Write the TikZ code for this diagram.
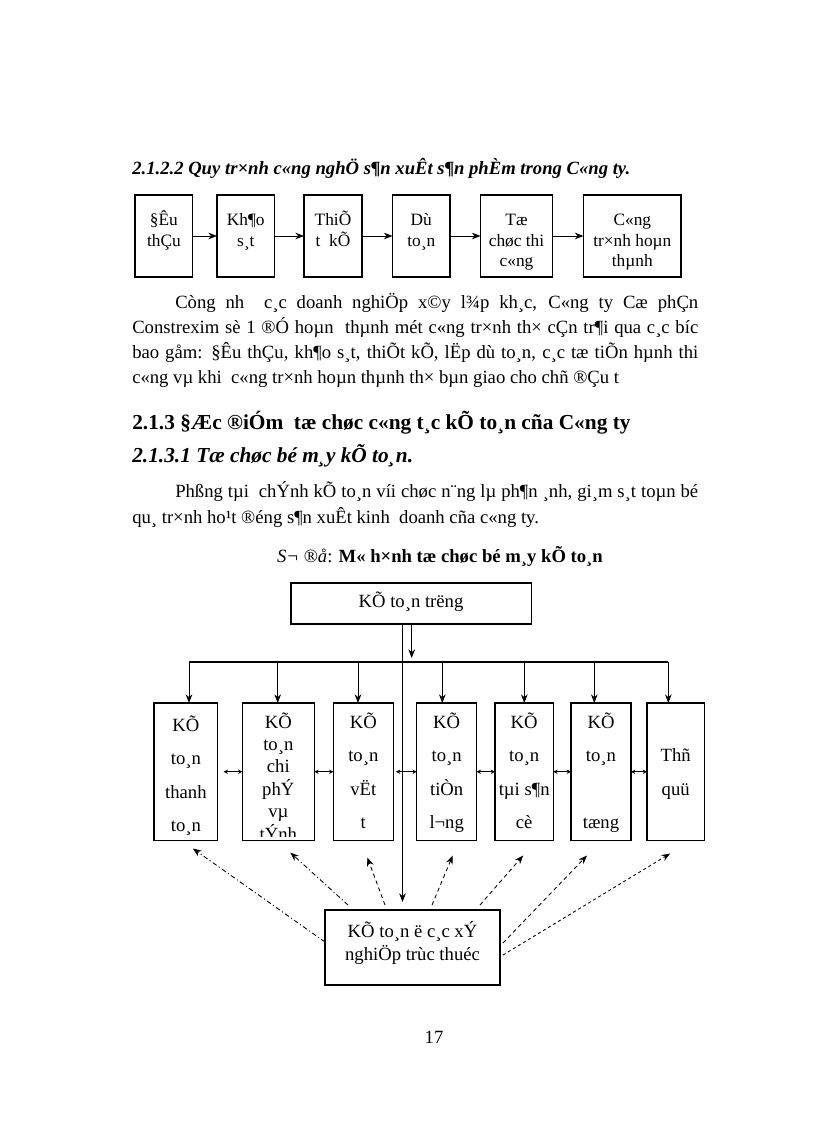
\documentclass[tikz,border=0pt]{standalone}
\usepackage{fontspec}
\setmainfont{Liberation Serif}
\usetikzlibrary{arrows.meta,fit}
\newcommand\boxlines[6]{\foreach \t [count=\i] in {#6} \node[#1] (#2\i) at (#3,{#4+(\i-1)*#5}) {\t};}
\begin{document}
\begin{tikzpicture}[x=0.75pt,y=-0.75pt,
  box/.style={draw,line width=0.8pt,inner sep=0pt,outer sep=0pt},
  arr/.style={-{Stealth[length=6.5pt,width=5pt]},line width=0.65pt},
  dbl/.style={{Stealth[length=3.2pt,width=3.2pt]}-{Stealth[length=3.2pt,width=3.2pt]},line width=0.55pt},
  txt/.style={anchor=base,inner sep=0pt,font=\fontsize{14}{16}\selectfont},
  small/.style={anchor=base,inner sep=0pt,font=\fontsize{13}{15}\selectfont},
  body/.style={anchor=base west,inner sep=0pt,font=\fontsize{14}{17}\selectfont},
  ddot/.style={arr,dash pattern=on 3.5pt off 2pt on 0.8pt off 2pt},
  dsh/.style={arr,dash pattern=on 3pt off 2.5pt},
  dshf/.style={arr,dash pattern=on 2.2pt off 2.2pt}
]
\fill[white] (0,0) rectangle (816,1123);
\useasboundingbox (0,0) rectangle (816,1123);

% ---- heading 2.1.2.2
\node[body,font=\fontsize{14}{17}\selectfont\bfseries\itshape] (h1) at (132,175)
  {2.1.2.2 Quy tr×nh c«ng nghÖ s¶n xuÊt s¶n phÈm trong C«ng ty.};

% ---- process flow
\node[box,fit={(135,195) (192.7,277)}] (f1) {};
\node[box,fit={(217,195) (274.5,277)}] (f2) {};
\node[box,fit={(304,195) (362,277)}] (f3) {};
\node[box,fit={(392.5,195) (450,277)}] (f4) {};
\node[box,fit={(480.5,195) (552.5,277)}] (f5) {};
\node[box,fit={(583.5,195) (681,277)}] (f6) {};
\boxlines{small}{f1t}{163.9}{225}{21}{§Êu,thÇu}
\boxlines{small}{f2t}{245.8}{225}{21}{Kh¶o,s¸t}
\boxlines{small}{f3t}{333}{225}{21}{ThiÕ,t\ \ kÕ}
\boxlines{small}{f4t}{421.3}{225}{21}{Dù,to¸n}
\boxlines{small}{f5t}{516.5}{225}{21}{Tæ,chøc thi,c«ng}
\boxlines{small}{f6t}{632.3}{225}{21}{C«ng,tr×nh hoµn,thµnh}
\draw[arr] (f1.east) -- (f2.west);
\draw[arr] (f2.east) -- (f3.west);
\draw[arr] (f3.east) -- (f4.west);
\draw[arr] (f4.east) -- (f5.west);
\draw[arr] (f5.east) -- (f6.west);

% ---- paragraph 1
\node[body] (p1a) at (175,308) {\makebox[392.25pt][s]{Còng nh\ \ c¸c doanh nghiÖp x©y l¾p kh¸c, C«ng ty Cæ phÇn}};
\node[body] (p1b) at (132,333) {\makebox[424.5pt][s]{Constrexim sè 1 ®Ó hoµn\ \ thµnh mét c«ng tr×nh th× cÇn tr¶i qua c¸c bíc}};
\node[body] (p1c) at (132,358) {\makebox[424.5pt][s]{bao gåm: §Êu thÇu, kh¶o s¸t, thiÕt kÕ, lËp dù to¸n, c¸c tæ tiÕn hµnh thi}};
\node[body] (p1d) at (132,383) {c«ng vµ khi\ \ c«ng tr×nh hoµn thµnh th× bµn giao cho chñ ®Çu t};

% ---- headings 2.1.3
\node[body,font=\fontsize{16}{19}\selectfont\bfseries] (h2) at (132,429)
  {2.1.3 §Æc ®iÓm\ \ tæ chøc c«ng t¸c kÕ to¸n cña C«ng ty};
\node[body,font=\fontsize{16}{19}\selectfont\bfseries\itshape] (h3) at (132,462)
  {2.1.3.1 Tæ chøc bé m¸y kÕ to¸n.};

% ---- paragraph 2
\node[body] (p2a) at (175,497) {\makebox[392.25pt][s]{Phßng tµi\ \ chÝnh kÕ to¸n víi chøc n¨ng lµ ph¶n ¸nh, gi¸m s¸t toµn bé}};
\node[body] (p2b) at (132,523) {qu¸ tr×nh ho¹t ®éng s¶n xuÊt kinh\ \ doanh cña c«ng ty.};

% ---- caption
\node[txt] (cap) at (440,562) {\textit{S¬ ®å}: \textbf{M« h×nh tæ chøc bé m¸y kÕ to¸n}};

% ---- org chart
\node[box,fit={(291,583) (531.5,624)}] (top) {};
\node[txt] (topt) at (411,607) {KÕ to¸n trëng};

\node[box,fit={(154,703) (217.7,840.5)}] (b1) {};
\node[box,fit={(242.3,703) (314.3,840.5)}] (b2) {};
\node[box,fit={(333.3,703) (393.3,840.5)}] (b3) {};
\node[box,fit={(416.7,703) (476.7,840.5)}] (b4) {};
\node[box,fit={(495,703) (553.3,840.5)}] (b5) {};
\node[box,fit={(571,703) (631,840.5)}] (b6) {};
\node[box,fit={(647,703) (704.3,840.5)}] (b7) {};
\node[box,fit={(325,910) (500,985)}] (bot) {};

\boxlines{txt}{b1t}{185.9}{731}{33.5}{KÕ,to¸n,thanh,to¸n}
\begin{scope}
  \clip (b2.north west) rectangle ([shift={(0,-4.5)}]b2.south east);
  \boxlines{txt}{b2t}{278.3}{728}{22.4}{KÕ,to¸n,chi,phÝ,vµ,tÝnh}
\end{scope}
\boxlines{txt}{b3t}{363.3}{728}{33.5}{KÕ,to¸n,vËt,t}
\boxlines{txt}{b4t}{446.7}{728}{33.5}{KÕ,to¸n,tiÒn,l¬ng}
\boxlines{txt}{b5t}{524.2}{728}{33.5}{KÕ,to¸n,tµi s¶n,cè}
\boxlines{txt}{b6t}{601}{728}{33.5}{KÕ,to¸n}
\node[txt] (b6t4) at (601,828.5) {tæng};
\boxlines{txt}{b7t}{675.7}{761.5}{33.5}{Thñ,quü}

\node[txt] (bott1) at (412.5,937) {KÕ to¸n ë c¸c xÝ};
\node[txt] (bott2) at (412.5,960) {nghiÖp trùc thuéc};

% bus and drops
\coordinate (vx) at (402.5,0);
\coordinate (sx) at (411.7,0);
\coordinate (busL) at (189,662);
\coordinate (busR) at (668.3,662);
\draw[line width=0.8pt] (busL) -- (busR);
\draw[arr,shorten >=3pt] (top.south -| sx) -- (busL -| sx);
\draw[arr,shorten >=6pt] (top.south -| vx) -- (bot.north -| vx);
\foreach \x/\b [count=\i] in {189/b1,277.7/b2,358/b3,442.3/b4,524.3/b5,594.3/b6,668.3/b7}{
  \coordinate (d\i) at (\x,662);
  \draw[arr] (d\i) -- (d\i |- \b.north);
}

% horizontal double arrows
\draw[dbl,shorten <=4.5pt] (b1.east) -- (b2.west);
\draw[dbl] (b2.east) -- (b3.west);
\draw[dbl,shorten <=2pt] (b3.east) -- (b4.west);
\draw[dbl] (b4.east) -- (b5.west);
\draw[dbl] (b5.east) -- (b6.west);
\draw[dbl] (b6.east) -- (b7.west);

% dashed links from bottom box
\draw[ddot] ([shift={(0,-5.5)}]bot.west) -- ([shift={(7,8)}]b1.south);
\draw[ddot] ([shift={(23,-5)}]bot.north west) -- ([shift={(12,12)}]b2.south);
\draw[dsh] ([shift={(60,-5)}]bot.north west) -- ([shift={(4,17)}]b3.south);
\draw[dsh] ([shift={(107,-5)}]bot.north west) -- ([shift={(6,15)}]b4.south);
\draw[dsh] ([shift={(155,-5)}]bot.north west) -- ([shift={(-1,15)}]b5.south);
\draw[dsh] ([shift={(3,-4.5)}]bot.east) -- ([shift={(-14,15)}]b6.south);
\draw[dshf] ([shift={(3,7.5)}]bot.east) -- ([shift={(-5.5,13)}]b7.south);

% page number
\node[txt] (pg) at (434,1043) {17};
\end{tikzpicture}
\end{document}
